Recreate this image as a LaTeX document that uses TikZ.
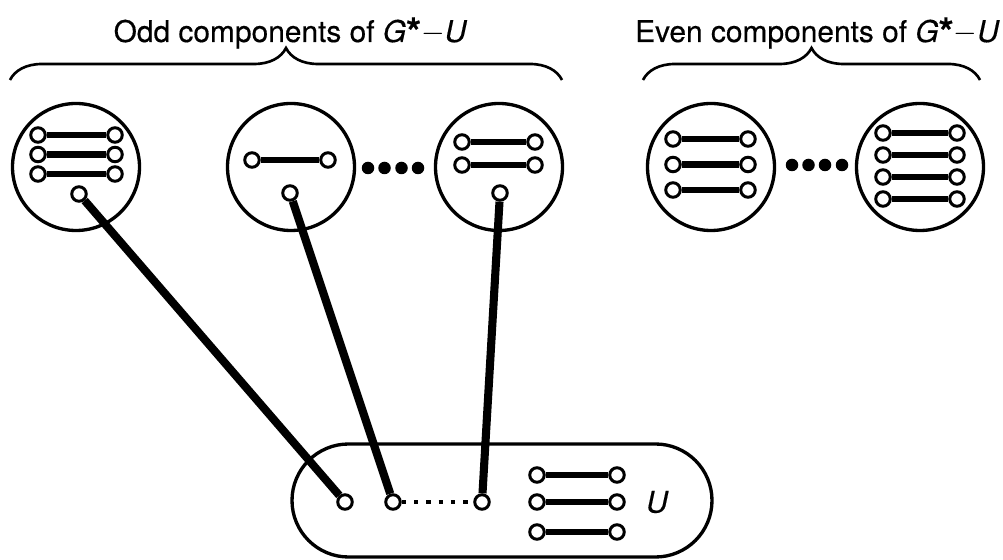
\documentclass[tikz,border=0pt]{standalone}
\usepackage{fontspec}
\setsansfont{TeX Gyre Heros}[FakeBold=0.4]
\usetikzlibrary{decorations.pathreplacing}

\begin{document}
\begin{tikzpicture}[
    every node/.style={font=\sffamily\fontsize{17}{20}\selectfont},
    comp/.style={draw, circle, line width=1.9pt, minimum size=2.54cm, inner sep=0pt},
    vtx/.style={draw, circle, fill=white, line width=1.7pt, minimum size=0.29cm, inner sep=0pt},
    bar/.style={line width=3.6pt},
    link/.style={line width=4.6pt},
    brc/.style={decorate, decoration={brace, amplitude=0.64cm}, line width=1.5pt}
]
    \useasboundingbox (0,0) rectangle (20.06,11.2);
    % titles and braces
    \node[anchor=base] (otitle) at (5.80,10.36)
        {Odd components of {\itshape G}\raisebox{-0.12em}{\fontsize{22}{22}\selectfont\bfseries *}$-${\itshape U}};
    \node[anchor=base] (etitle) at (16.34,10.36)
        {Even components of {\itshape G}\raisebox{-0.12em}{\fontsize{22}{22}\selectfont\bfseries *}$-${\itshape U}};
    \coordinate (ob1) at (0.20,9.60);
    \coordinate (ob2) at (11.24,9.60);
    \coordinate (eb1) at (12.86,9.60);
    \coordinate (eb2) at (19.60,9.60);
    \draw[brc] (ob1) -- (ob2);
    \draw[brc] (eb1) -- (eb2);
    % components
    \node[comp] (o1) at (1.52,7.86) {};
    \node[comp] (o2) at (5.82,7.86) {};
    \node[comp] (o3) at (9.98,7.86) {};
    \node[comp] (e1) at (14.22,7.86) {};
    \node[comp] (e2) at (18.40,7.86) {};
    \node[draw, rectangle, rounded corners=1.13cm, line width=1.9pt,
          minimum width=8.4cm, minimum height=2.26cm] (ubox) at (10.04,1.19) {};
    \node (ulab) at (13.14,1.16) {\itshape U};
    % matched pairs
    \foreach \c/\xl/\xr/\ys in {o1/0.76/2.30/{8.50,8.11,7.72}, o2/5.04/6.56/{8.00},
        o3/9.24/10.70/{8.36,7.90}, e1/13.46/14.96/{8.42,7.91,7.40},
        e2/17.66/19.14/{8.54,8.10,7.66,7.22}, u/10.74/12.34/{1.70,1.16,0.56}} {
        \foreach \y [count=\i] in \ys {
            \node[vtx] (\c l\i) at (\xl,\y) {};
            \node[vtx] (\c r\i) at (\xr,\y) {};
            \draw[bar] (\c l\i) -- (\c r\i);
        }
    }
    % dots
    \foreach \x in {7.36,7.69,8.03,8.36} \fill (\x,7.84) circle (0.125);
    \foreach \x in {15.84,16.17,16.50,16.84} \fill (\x,7.90) circle (0.125);
    % edges to U
    \node[vtx] (t1) at (1.58,7.32) {};
    \node[vtx] (t2) at (5.80,7.34) {};
    \node[vtx] (t3) at (10.00,7.34) {};
    \node[vtx] (b1) at (6.90,1.16) {};
    \node[vtx] (b2) at (7.86,1.16) {};
    \node[vtx] (b3) at (9.64,1.16) {};
    \draw[link] (t1) -- (b1);
    \draw[link] (t2) -- (b2);
    \draw[link] (t3) -- (b3);
    \draw[line width=2.3pt, dash pattern=on 2.5pt off 4.5pt] (b2) -- (b3);
\end{tikzpicture}
\end{document}
